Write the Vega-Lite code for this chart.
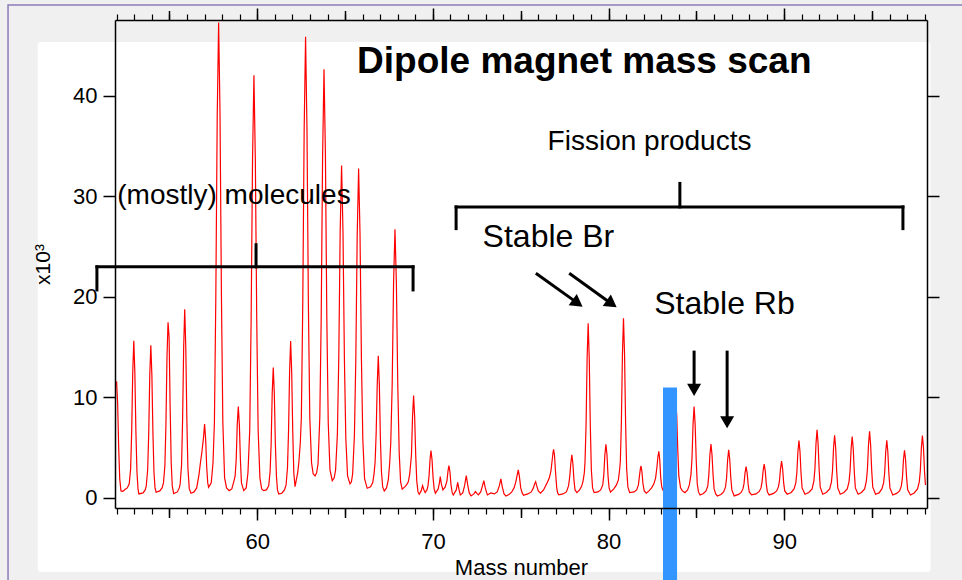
{
"$schema": "https://vega.github.io/schema/vega-lite/v6.json",
"width": 812, "height": 488,
"autosize": {"type": "none"},
"padding": {"left": 115, "top": 20, "right": 35, "bottom": 72},
"background": "#f0f0f0",
"config": {
 "view": {"stroke": null},
 "font": "Liberation Sans",
 "axis": {"domainColor": "#000000", "tickColor": "#000000", "labelColor": "#000000", "titleColor": "#000000",
  "labelFont": "Liberation Sans", "titleFont": "Liberation Sans", "labelFontSize": 22, "titleFontSize": 22,
  "titleFontWeight": "normal", "grid": false, "domainWidth": 1.5, "tickWidth": 1.5, "zindex": 1}
},
"datasets": {
 "scan": [
{"m":51.99,"c":11.6},{"m":52.05,"c":9.4},{"m":52.11,"c":5.0},{"m":52.17,"c":1.9},{"m":52.24,"c":0.7},{"m":52.35,"c":0.65},{"m":52.48,"c":0.87},{"m":52.6,"c":1.0},
{"m":52.71,"c":1.4},{"m":52.79,"c":2.9},{"m":52.85,"c":6.6},{"m":52.91,"c":12.5},{"m":52.97,"c":15.65},{"m":53.03,"c":12.5},{"m":53.09,"c":6.6},{"m":53.15,"c":2.6},{"m":53.21,"c":0.9},{"m":53.26,"c":0.4},
{"m":53.5,"c":0.5},{"m":53.62,"c":0.8},
{"m":53.68,"c":1.2},{"m":53.76,"c":2.8},{"m":53.82,"c":6.4},{"m":53.88,"c":12.2},{"m":53.94,"c":15.2},{"m":54.0,"c":12.2},{"m":54.06,"c":6.4},{"m":54.12,"c":2.5},{"m":54.18,"c":1.0},{"m":54.24,"c":0.57},
{"m":54.45,"c":0.7},{"m":54.58,"c":1.0},
{"m":54.66,"c":1.5},{"m":54.74,"c":3.2},{"m":54.8,"c":7.3},{"m":54.86,"c":14.0},{"m":54.92,"c":17.48},{"m":54.98,"c":16.0},{"m":55.04,"c":9.0},{"m":55.1,"c":3.5},{"m":55.16,"c":1.2},{"m":55.24,"c":0.43},
{"m":55.45,"c":0.6},{"m":55.56,"c":1.0},
{"m":55.61,"c":1.4},{"m":55.69,"c":3.3},{"m":55.75,"c":7.9},{"m":55.81,"c":15.0},{"m":55.87,"c":18.77},{"m":55.93,"c":15.0},{"m":55.99,"c":7.9},{"m":56.05,"c":3.0},{"m":56.13,"c":0.9},{"m":56.23,"c":0.47},
{"m":56.4,"c":0.6},{"m":56.55,"c":1.0},{"m":56.68,"c":2.3},{"m":56.76,"c":3.45},{"m":56.85,"c":4.6},
{"m":56.94,"c":6.0},{"m":57.0,"c":7.36},{"m":57.06,"c":5.9},{"m":57.12,"c":3.1},{"m":57.18,"c":1.5},{"m":57.23,"c":1.06},
{"m":57.38,"c":1.5},{"m":57.48,"c":3.5},{"m":57.56,"c":7.5},{"m":57.64,"c":20},{"m":57.72,"c":38},{"m":57.8,"c":47.3},{"m":57.88,"c":38},{"m":57.96,"c":20},{"m":58.04,"c":7.5},{"m":58.14,"c":2.0},{"m":58.25,"c":1.0},{"m":58.4,"c":0.73},
{"m":58.55,"c":0.9},{"m":58.66,"c":1.6},{"m":58.74,"c":2.2},{"m":58.8,"c":3.8},{"m":58.86,"c":7.3},{"m":58.92,"c":9.09},{"m":58.98,"c":7.3},{"m":59.04,"c":3.8},{"m":59.1,"c":1.5},{"m":59.23,"c":0.73},
{"m":59.37,"c":1.0},{"m":59.47,"c":2.5},{"m":59.57,"c":6.7},{"m":59.65,"c":17.7},{"m":59.73,"c":33.6},{"m":59.81,"c":42.06},{"m":59.89,"c":33.6},{"m":59.97,"c":17.7},{"m":60.05,"c":6.7},{"m":60.15,"c":2.0},{"m":60.25,"c":0.9},{"m":60.36,"c":0.73},
{"m":60.52,"c":0.8},{"m":60.65,"c":1.2},{"m":60.73,"c":2.6},{"m":60.79,"c":5.4},{"m":60.85,"c":10.4},{"m":60.91,"c":12.97},{"m":60.97,"c":10.4},{"m":61.03,"c":5.4},{"m":61.09,"c":2.2},{"m":61.15,"c":0.8},{"m":61.22,"c":0.4},
{"m":61.4,"c":0.47},{"m":61.55,"c":0.8},
{"m":61.64,"c":1.3},{"m":61.72,"c":3.0},{"m":61.78,"c":6.6},{"m":61.84,"c":12.5},{"m":61.9,"c":15.62},{"m":61.96,"c":12.5},{"m":62.02,"c":6.6},{"m":62.08,"c":2.5},{"m":62.15,"c":1.13},
{"m":62.3,"c":2.5},{"m":62.37,"c":3.6},
{"m":62.45,"c":5.5},{"m":62.51,"c":8.0},{"m":62.59,"c":19.3},{"m":62.67,"c":36.7},{"m":62.75,"c":45.9},{"m":62.83,"c":36.7},{"m":62.91,"c":19.3},{"m":62.99,"c":8.0},{"m":63.09,"c":3.5},{"m":63.18,"c":2.4},{"m":63.29,"c":2.19},
{"m":63.38,"c":2.5},{"m":63.46,"c":3.4},{"m":63.56,"c":8.0},{"m":63.64,"c":17.9},{"m":63.72,"c":34.1},{"m":63.8,"c":42.65},{"m":63.88,"c":34.1},{"m":63.96,"c":17.9},{"m":64.04,"c":7.5},{"m":64.14,"c":2.8},{"m":64.27,"c":1.72},
{"m":64.38,"c":2.0},{"m":64.46,"c":2.8},{"m":64.56,"c":6.3},{"m":64.64,"c":13.9},{"m":64.72,"c":26.5},{"m":64.8,"c":33.07},{"m":64.88,"c":26.5},{"m":64.96,"c":13.9},{"m":65.04,"c":6.0},{"m":65.14,"c":2.2},{"m":65.28,"c":1.39},
{"m":65.36,"c":1.6},{"m":65.43,"c":2.4},{"m":65.53,"c":6.2},{"m":65.61,"c":13.8},{"m":65.69,"c":26.2},{"m":65.77,"c":32.77},{"m":65.85,"c":26.2},{"m":65.93,"c":13.8},{"m":66.01,"c":5.8},{"m":66.11,"c":1.9},{"m":66.26,"c":0.96},
{"m":66.45,"c":1.1},{"m":66.57,"c":1.5},{"m":66.65,"c":2.4},{"m":66.71,"c":3.6},{"m":66.77,"c":6.5},{"m":66.83,"c":11.3},{"m":66.89,"c":14.16},{"m":66.95,"c":11.3},{"m":67.01,"c":5.9},{"m":67.07,"c":2.6},{"m":67.14,"c":1.1},{"m":67.23,"c":0.7},
{"m":67.36,"c":1.0},{"m":67.46,"c":1.8},{"m":67.54,"c":3.5},{"m":67.6,"c":5.5},{"m":67.68,"c":11.2},{"m":67.76,"c":21.4},{"m":67.84,"c":26.73},{"m":67.92,"c":21.4},{"m":68.0,"c":11.2},{"m":68.08,"c":4.5},{"m":68.16,"c":1.6},{"m":68.25,"c":0.87},
{"m":68.4,"c":1.1},{"m":68.5,"c":1.3},
{"m":68.6,"c":1.6},{"m":68.68,"c":2.4},{"m":68.78,"c":4.3},{"m":68.84,"c":8.1},{"m":68.9,"c":10.18},{"m":68.96,"c":8.1},{"m":69.02,"c":4.3},{"m":69.08,"c":1.7},{"m":69.15,"c":0.6},{"m":69.22,"c":0.37},
{"m":69.33,"c":0.7},{"m":69.41,"c":1.23},{"m":69.49,"c":0.8},{"m":69.56,"c":0.53},
{"m":69.66,"c":0.8},{"m":69.72,"c":1.2},{"m":69.78,"c":2.2},{"m":69.84,"c":3.9},{"m":69.89,"c":4.71},{"m":69.95,"c":3.8},{"m":70.01,"c":2.0},{"m":70.07,"c":0.9},{"m":70.14,"c":0.47},
{"m":70.3,"c":0.9},{"m":70.37,"c":1.5},{"m":70.42,"c":2.12},{"m":70.48,"c":1.4},{"m":70.57,"c":0.8},{"m":70.7,"c":1.1},
{"m":70.8,"c":1.7},{"m":70.86,"c":2.7},{"m":70.91,"c":3.21},{"m":70.97,"c":2.6},{"m":71.03,"c":1.3},{"m":71.1,"c":0.5},{"m":71.16,"c":0.3},
{"m":71.33,"c":0.8},{"m":71.41,"c":1.56},{"m":71.49,"c":0.8},{"m":71.56,"c":0.3},
{"m":71.7,"c":0.5},{"m":71.8,"c":1.2},{"m":71.9,"c":2.22},{"m":71.98,"c":1.3},{"m":72.07,"c":0.5},{"m":72.17,"c":0.2},
{"m":72.33,"c":0.4},{"m":72.42,"c":0.63},{"m":72.5,"c":0.45},{"m":72.59,"c":0.3},
{"m":72.72,"c":0.6},{"m":72.82,"c":1.2},{"m":72.9,"c":1.72},{"m":72.98,"c":1.0},{"m":73.1,"c":0.3},{"m":73.3,"c":0.5},{"m":73.5,"c":0.4},
{"m":73.66,"c":0.6},{"m":73.78,"c":1.2},{"m":73.87,"c":1.89},{"m":73.95,"c":1.1},{"m":74.05,"c":0.4},{"m":74.16,"c":0.2},{"m":74.33,"c":0.35},{"m":74.48,"c":0.57},
{"m":74.62,"c":1.0},{"m":74.72,"c":1.6},{"m":74.8,"c":2.3},{"m":74.86,"c":2.79},{"m":74.92,"c":2.2},{"m":75.0,"c":1.0},{"m":75.08,"c":0.5},{"m":75.16,"c":0.27},{"m":75.4,"c":0.4},
{"m":75.6,"c":0.6},{"m":75.72,"c":1.0},{"m":75.79,"c":1.4},{"m":75.85,"c":1.62},{"m":75.91,"c":1.2},{"m":76.0,"c":0.7},{"m":76.13,"c":0.47},{"m":76.3,"c":0.8},{"m":76.5,"c":1.5},
{"m":76.63,"c":2.0},{"m":76.72,"c":2.7},{"m":76.78,"c":3.6},{"m":76.83,"c":4.4},{"m":76.87,"c":4.84},{"m":76.92,"c":4.3},{"m":76.98,"c":2.6},{"m":77.05,"c":1.0},{"m":77.1,"c":0.5},{"m":77.17,"c":0.3},
{"m":77.4,"c":0.4},{"m":77.6,"c":0.6},{"m":77.72,"c":1.2},{"m":77.79,"c":2.1},{"m":77.85,"c":3.4},{"m":77.91,"c":4.28},{"m":77.97,"c":3.4},{"m":78.03,"c":1.8},{"m":78.09,"c":0.8},{"m":78.2,"c":0.53},{"m":78.35,"c":0.8},{"m":78.46,"c":1.13},
{"m":78.54,"c":1.6},{"m":78.62,"c":2.5},{"m":78.66,"c":3.6},{"m":78.72,"c":7.3},{"m":78.78,"c":13.9},{"m":78.84,"c":17.38},{"m":78.9,"c":13.9},{"m":78.96,"c":7.3},{"m":79.02,"c":2.8},{"m":79.09,"c":1.0},{"m":79.18,"c":0.53},
{"m":79.4,"c":0.6},{"m":79.55,"c":0.8},{"m":79.67,"c":1.3},{"m":79.73,"c":2.3},{"m":79.79,"c":4.3},{"m":79.85,"c":5.34},{"m":79.91,"c":4.3},{"m":79.97,"c":2.2},{"m":80.03,"c":1.0},{"m":80.11,"c":0.57},{"m":80.3,"c":0.9},
{"m":80.45,"c":1.3},{"m":80.56,"c":1.8},{"m":80.63,"c":2.8},{"m":80.67,"c":3.6},{"m":80.73,"c":7.5},{"m":80.79,"c":14.3},{"m":80.85,"c":17.88},{"m":80.91,"c":14.3},{"m":80.97,"c":7.5},{"m":81.03,"c":2.9},{"m":81.1,"c":1.1},{"m":81.2,"c":0.53},
{"m":81.45,"c":0.6},{"m":81.6,"c":0.8},{"m":81.7,"c":1.3},{"m":81.76,"c":2.2},{"m":81.81,"c":2.9},{"m":81.85,"c":3.18},{"m":81.9,"c":2.6},{"m":81.96,"c":1.4},{"m":82.03,"c":0.7},{"m":82.15,"c":0.47},{"m":82.3,"c":0.7},{"m":82.45,"c":1.0},
{"m":82.58,"c":1.4},{"m":82.68,"c":2.0},{"m":82.75,"c":3.0},{"m":82.81,"c":4.1},{"m":82.86,"c":4.64},{"m":82.91,"c":3.9},{"m":82.97,"c":2.0},{"m":83.03,"c":1.1},{"m":83.09,"c":0.8},
{"m":83.3,"c":1.2},{"m":83.5,"c":2.2},{"m":83.6,"c":3.5},{"m":83.66,"c":5.5},{"m":83.72,"c":7.8},{"m":83.78,"c":9.2},{"m":83.83,"c":9.4},{"m":83.88,"c":8.26},{"m":83.94,"c":4.8},{"m":84.0,"c":2.2},{"m":84.1,"c":1.0},{"m":84.2,"c":0.7},{"m":84.35,"c":0.53},
{"m":84.5,"c":0.8},{"m":84.6,"c":1.3},{"m":84.69,"c":2.3},{"m":84.75,"c":3.9},{"m":84.81,"c":7.3},{"m":84.87,"c":9.09},{"m":84.93,"c":7.3},{"m":84.99,"c":3.8},{"m":85.05,"c":1.4},{"m":85.12,"c":0.6},{"m":85.21,"c":0.3},
{"m":85.4,"c":0.45},{"m":85.55,"c":0.7},{"m":85.65,"c":1.2},{"m":85.71,"c":2.3},{"m":85.77,"c":4.3},{"m":85.83,"c":5.37},{"m":85.89,"c":4.3},{"m":85.95,"c":2.3},{"m":86.01,"c":0.9},{"m":86.1,"c":0.4},{"m":86.19,"c":0.2},
{"m":86.4,"c":0.35},{"m":86.55,"c":0.6},{"m":86.66,"c":1.1},{"m":86.72,"c":2.0},{"m":86.78,"c":3.8},{"m":86.84,"c":4.78},{"m":86.9,"c":3.8},{"m":86.96,"c":2.0},{"m":87.02,"c":0.8},{"m":87.15,"c":0.2},
{"m":87.4,"c":0.35},{"m":87.55,"c":0.55},{"m":87.65,"c":0.9},{"m":87.71,"c":1.4},{"m":87.77,"c":2.5},{"m":87.83,"c":3.12},{"m":87.89,"c":2.5},{"m":87.95,"c":1.3},{"m":88.01,"c":0.6},{"m":88.14,"c":0.3},
{"m":88.4,"c":0.4},{"m":88.58,"c":0.65},{"m":88.68,"c":1.0},{"m":88.74,"c":1.6},{"m":88.8,"c":2.7},{"m":88.86,"c":3.38},{"m":88.92,"c":2.7},{"m":88.98,"c":1.4},{"m":89.04,"c":0.6},{"m":89.14,"c":0.3},
{"m":89.4,"c":0.45},{"m":89.57,"c":0.7},{"m":89.67,"c":1.1},{"m":89.73,"c":1.7},{"m":89.79,"c":2.9},{"m":89.85,"c":3.68},{"m":89.91,"c":2.9},{"m":89.97,"c":1.5},{"m":90.03,"c":0.7},{"m":90.17,"c":0.37},
{"m":90.4,"c":0.55},{"m":90.56,"c":0.9},{"m":90.66,"c":1.5},{"m":90.72,"c":2.5},{"m":90.78,"c":4.6},{"m":90.84,"c":5.7},{"m":90.9,"c":4.6},{"m":90.96,"c":2.4},{"m":91.02,"c":1.0},{"m":91.18,"c":0.37},
{"m":91.4,"c":0.55},{"m":91.59,"c":0.9},{"m":91.69,"c":1.7},{"m":91.75,"c":2.9},{"m":91.81,"c":5.4},{"m":91.87,"c":6.77},{"m":91.93,"c":5.4},{"m":91.99,"c":2.8},{"m":92.05,"c":1.1},{"m":92.19,"c":0.37},
{"m":92.4,"c":0.55},{"m":92.59,"c":0.9},{"m":92.69,"c":1.6},{"m":92.75,"c":2.7},{"m":92.81,"c":5.0},{"m":92.87,"c":6.24},{"m":92.93,"c":5.0},{"m":92.99,"c":2.6},{"m":93.05,"c":1.0},{"m":93.19,"c":0.37},
{"m":93.4,"c":0.55},{"m":93.59,"c":0.9},{"m":93.69,"c":1.6},{"m":93.75,"c":2.7},{"m":93.81,"c":4.9},{"m":93.87,"c":6.1},{"m":93.93,"c":4.9},{"m":93.99,"c":2.6},{"m":94.05,"c":1.0},{"m":94.21,"c":0.37},
{"m":94.4,"c":0.55},{"m":94.58,"c":0.9},{"m":94.68,"c":1.7},{"m":94.74,"c":2.9},{"m":94.8,"c":5.3},{"m":94.86,"c":6.63},{"m":94.92,"c":5.3},{"m":94.98,"c":2.8},{"m":95.04,"c":1.1},{"m":95.2,"c":0.37},
{"m":95.4,"c":0.5},{"m":95.56,"c":0.9},{"m":95.66,"c":1.5},{"m":95.72,"c":2.5},{"m":95.78,"c":4.6},{"m":95.84,"c":5.74},{"m":95.9,"c":4.6},{"m":95.96,"c":2.4},{"m":96.02,"c":1.0},{"m":96.18,"c":0.3},
{"m":96.4,"c":0.45},{"m":96.57,"c":0.7},{"m":96.67,"c":1.2},{"m":96.73,"c":2.0},{"m":96.79,"c":3.8},{"m":96.85,"c":4.74},{"m":96.91,"c":3.8},{"m":96.97,"c":2.0},{"m":97.03,"c":0.8},{"m":97.19,"c":0.3},
{"m":97.4,"c":0.5},{"m":97.59,"c":0.9},{"m":97.69,"c":1.6},{"m":97.75,"c":2.7},{"m":97.81,"c":5.0},{"m":97.87,"c":6.2},{"m":97.93,"c":5.0},{"m":97.99,"c":2.6},{"m":98.04,"c":1.29}
 ]
},
"layer": [
 {
  "data": {"values": [{"x": 47.5, "x2": 98.33, "y": 45.37, "y2": -7.36}]},
  "mark": {"type": "rect", "fill": "#ffffff", "cornerRadius": 3},
  "encoding": {
   "x": {"field": "x", "type": "quantitative", "scale": {"domain": [51.9, 98.13], "nice": false, "zero": false},
    "axis": {"orient": "bottom", "zindex": 1, "values": [60, 70, 80, 90], "tickSize": 12, "labelPadding": 11, "title": "Mass number", "titlePadding": 5}},
   "x2": {"field": "x2"},
   "y": {"field": "y", "type": "quantitative", "scale": {"domain": [-1.0, 47.56], "nice": false, "zero": false},
    "axis": {"orient": "left", "zindex": 1, "values": [0, 10, 20, 30, 40], "tickSize": 12, "labelPadding": 6, "title": "x10³", "titlePadding": 19, "titleFontSize": 21}},
   "y2": {"field": "y2"}
  }
 },
 {
  "data": {"values": [{"x": 45.81, "x2": 110, "y": 49.05, "y2": -20}]},
  "mark": {"type": "rect", "fill": null, "stroke": "#8c7ab8", "strokeWidth": 1.5},
  "encoding": {
   "x": {"field": "x", "type": "quantitative", "scale": {"domain": [51.9, 98.13], "nice": false, "zero": false},
    "axis": {"orient": "bottom", "zindex": 1, "values": [55, 65, 75, 85, 95], "tickSize": 9.5, "labels": false, "domain": false, "title": null}},
   "x2": {"field": "x2"},
   "y": {"field": "y", "type": "quantitative", "scale": {"domain": [-1.0, 47.56], "nice": false, "zero": false},
    "axis": {"orient": "right", "zindex": 1, "values": [0, 10, 20, 30, 40], "tickSize": 12, "labels": false, "domain": true, "title": null}},
   "y2": {"field": "y2"}
  }
 },
 {
  "data": {"name": "scan"},
  "mark": {"type": "line", "color": "#ff0000", "strokeWidth": 1.2, "interpolate": "linear"},
  "encoding": {
   "x": {"field": "m", "type": "quantitative", "scale": {"domain": [51.9, 98.13], "nice": false, "zero": false},
    "axis": {"orient": "bottom", "zindex": 1, "values": [52,53,54,55,56,57,58,59,60,61,62,63,64,65,66,67,68,69,70,71,72,73,74,75,76,77,78,79,80,81,82,83,84,85,86,87,88,89,90,91,92,93,94,95,96,97,98], "tickSize": 6, "tickWidth": 1.2, "labels": false, "domain": false, "title": null}},
   "y": {"field": "c", "type": "quantitative", "scale": {"domain": [-1.0, 47.56], "nice": false, "zero": false}, "axis": null}
  }
 },
 {
  "data": {"values": [
   {"x": 50.87, "y": 23.0, "x2": 68.87, "y2": 23.0},
   {"x": 50.87, "y": 23.0, "x2": 50.87, "y2": 20.7},
   {"x": 68.87, "y": 23.0, "x2": 68.87, "y2": 20.7},
   {"x": 59.93, "y": 23.0, "x2": 59.93, "y2": 25.2},
   {"x": 71.32, "y": 28.96, "x2": 96.76, "y2": 28.96},
   {"x": 71.32, "y": 28.96, "x2": 71.32, "y2": 26.8},
   {"x": 96.76, "y": 28.96, "x2": 96.76, "y2": 26.8},
   {"x": 84.06, "y": 28.96, "x2": 84.06, "y2": 31.3}
  ]},
  "mark": {"type": "rule", "color": "#000000", "strokeWidth": 3, "strokeCap": "square"},
  "encoding": {
   "x": {"field": "x", "type": "quantitative", "scale": {"domain": [51.9, 98.13], "nice": false, "zero": false},
    "axis": {"orient": "top", "zindex": 1, "values": [60, 70, 80, 90], "tickSize": 12, "labels": false, "domain": true, "title": null}},
   "x2": {"field": "x2"},
   "y": {"field": "y", "type": "quantitative", "scale": {"domain": [-1.0, 47.56], "nice": false, "zero": false}, "axis": null},
   "y2": {"field": "y2"}
  }
 },
 {
  "data": {"values": [
   {"x": 75.86, "y": 22.36, "x2": 78.06, "y2": 19.61},
   {"x": 77.76, "y": 22.36, "x2": 79.99, "y2": 19.55},
   {"x": 84.87, "y": 14.66, "x2": 84.87, "y2": 11.14},
   {"x": 86.75, "y": 14.66, "x2": 86.75, "y2": 7.96}
  ]},
  "mark": {"type": "rule", "color": "#000000", "strokeWidth": 3},
  "encoding": {
   "x": {"field": "x", "type": "quantitative", "scale": {"domain": [51.9, 98.13], "nice": false, "zero": false},
    "axis": {"orient": "top", "zindex": 1, "values": [55, 65, 75, 85, 95], "tickSize": 9.5, "labels": false, "domain": false, "title": null}},
   "x2": {"field": "x2"},
   "y": {"field": "y", "type": "quantitative", "scale": {"domain": [-1.0, 47.56], "nice": false, "zero": false}, "axis": null},
   "y2": {"field": "y2"}
  }
 },
 {
  "data": {"values": [{"x": 78.24, "y": 19.38}, {"x": 80.18, "y": 19.32}]},
  "mark": {"type": "point", "shape": "triangle-right", "angle": 35.6, "size": 196, "filled": true, "color": "#000000", "opacity": 1},
  "encoding": {
   "x": {"field": "x", "type": "quantitative", "scale": {"domain": [51.9, 98.13], "nice": false, "zero": false},
    "axis": {"orient": "top", "zindex": 1, "values": [52,53,54,55,56,57,58,59,60,61,62,63,64,65,66,67,68,69,70,71,72,73,74,75,76,77,78,79,80,81,82,83,84,85,86,87,88,89,90,91,92,93,94,95,96,97,98], "tickSize": 6, "tickWidth": 1.2, "labels": false, "domain": false, "title": null}},
   "y": {"field": "y", "type": "quantitative", "scale": {"domain": [-1.0, 47.56], "nice": false, "zero": false}, "axis": null}
  }
 },
 {
  "data": {"values": [{"x": 84.87, "y": 10.75}, {"x": 86.75, "y": 7.53}]},
  "mark": {"type": "point", "shape": "triangle-down", "size": 196, "filled": true, "color": "#000000", "opacity": 1},
  "encoding": {
   "x": {"field": "x", "type": "quantitative", "scale": {"domain": [51.9, 98.13], "nice": false, "zero": false}, "axis": null},
   "y": {"field": "y", "type": "quantitative", "scale": {"domain": [-1.0, 47.56], "nice": false, "zero": false}, "axis": null}
  }
 },
 {
  "data": {"values": [{"x": 83.1, "x2": 83.9, "y": 11.0, "y2": -8.2}]},
  "mark": {"type": "rect", "fill": "#3395ff"},
  "encoding": {
   "x": {"field": "x", "type": "quantitative", "scale": {"domain": [51.9, 98.13], "nice": false, "zero": false}, "axis": null},
   "x2": {"field": "x2"},
   "y": {"field": "y", "type": "quantitative", "scale": {"domain": [-1.0, 47.56], "nice": false, "zero": false}, "axis": null},
   "y2": {"field": "y2"}
  }
 },
 {
  "data": {"values": [{"x": 78.62, "y": 42.29, "label": "Dipole magnet mass scan"}]},
  "mark": {"type": "text", "font": "Liberation Sans", "fontSize": 37, "fontWeight": "bold", "align": "center", "baseline": "alphabetic", "color": "#000000"},
  "encoding": {
   "x": {"field": "x", "type": "quantitative", "scale": {"domain": [51.9, 98.13], "nice": false, "zero": false}, "axis": null},
   "y": {"field": "y", "type": "quantitative", "scale": {"domain": [-1.0, 47.56], "nice": false, "zero": false}, "axis": null},
   "text": {"field": "label"}
  }
 },
 {
  "data": {"values": [{"x": 76.53, "y": 34.63, "label": "Fission products"}, {"x": 52.03, "y": 29.25, "label": "(mostly) molecules"}]},
  "mark": {"type": "text", "font": "Liberation Sans", "fontSize": 28, "align": "left", "baseline": "alphabetic", "color": "#000000"},
  "encoding": {
   "x": {"field": "x", "type": "quantitative", "scale": {"domain": [51.9, 98.13], "nice": false, "zero": false}, "axis": null},
   "y": {"field": "y", "type": "quantitative", "scale": {"domain": [-1.0, 47.56], "nice": false, "zero": false}, "axis": null},
   "text": {"field": "label"}
  }
 },
 {
  "data": {"values": [{"x": 72.83, "y": 25.0, "label": "Stable Br"}, {"x": 82.6, "y": 18.3, "label": "Stable Rb"}]},
  "mark": {"type": "text", "font": "Liberation Sans", "fontSize": 32, "align": "left", "baseline": "alphabetic", "color": "#000000"},
  "encoding": {
   "x": {"field": "x", "type": "quantitative", "scale": {"domain": [51.9, 98.13], "nice": false, "zero": false}, "axis": null},
   "y": {"field": "y", "type": "quantitative", "scale": {"domain": [-1.0, 47.56], "nice": false, "zero": false}, "axis": null},
   "text": {"field": "label"}
  }
 }
],
"resolve": {"axis": {"x": "independent", "y": "independent"}}
}
